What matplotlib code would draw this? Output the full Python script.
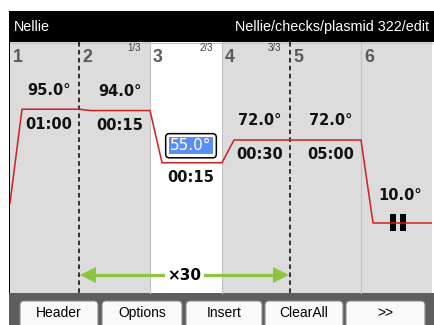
import matplotlib
matplotlib.use('Agg')
import matplotlib.pyplot as plt
from matplotlib.patches import Rectangle, FancyBboxPatch, Polygon

W, H = 434, 325

# program data
steps = ['1', '2', '3', '4', '5', '6']
temps = [95.0, 94.0, 55.0, 72.0, 72.0, 10.0]
times = ['01:00', '00:15', '00:15', '00:30', '05:00', None]   # None -> hold
cycle_pos = ['', '1/3', '2/3', '3/3', '', '']
start_temp = 25.0
cycles = 30
selected = 2
buttons = ['Header', 'Options', 'Insert', 'ClearAll', '>>']
title_left = 'Nellie'
title_right = 'Nellie/checks/plasmid 322/edit'

# layout (pixels)
col_edges = [10, 79, 150, 222, 290, 361, 432]
ramp = 12
label_x = [49, 120, 191, 260, 331, 400]
btn_x = [(20, 98), (102, 182), (186, 262), (265, 343), (346, 425)]
panel_top, panel_bot = 42, 293
T_top, T_bot = 145.2, -42.3

GRAY = '#dcdcdc'
RED = '#d11f1f'
GREEN = '#8cc63f'
BLUE = '#5b8ef5'

fig = plt.figure(figsize=(W / 100, H / 100), dpi=100)
ax = fig.add_axes([0, 0, 1, 1])
ax.set_xlim(0, W)
ax.set_ylim(H, 0)
ax.axis('off')

# header, panel, bottom bar
ax.add_patch(Rectangle((9, 11), W - 9, panel_top - 11, fc='black', ec='none'))
ax.add_patch(Rectangle((10, panel_top), col_edges[-1] - 10, panel_bot - panel_top, fc=GRAY, ec='none'))
ax.add_patch(Rectangle((col_edges[selected], panel_top), col_edges[selected + 1] - col_edges[selected],
                       panel_bot - panel_top, fc='white', ec='none'))
ax.add_patch(Rectangle((8.5, 11), 1.5, H - 11, fc='black', ec='none'))
ax.add_patch(Rectangle((9, panel_bot), W - 9, H - panel_bot, fc='#5e5e5e', ec='none'))
ax.plot([10, col_edges[-1]], [panel_top + 0.5] * 2, color='#c4c4c4', lw=0.8)

ax.text(14, 27, title_left, color='white', fontsize=10.4, va='center', family='Liberation Sans')
ax.text(429, 27, title_right, color='white', fontsize=10.4, va='center', ha='right', family='Liberation Sans')

# column dividers: dashed at the cycle bounds
in_cycle = [i for i, c in enumerate(cycle_pos) if c]
dashed = {col_edges[in_cycle[0]], col_edges[in_cycle[-1] + 1]}
for x in col_edges[1:-1]:
    if x in dashed:
        ax.plot([x, x], [panel_top, panel_bot], color='black', lw=1.1, dashes=(3, 2.2))
    else:
        ax.plot([x, x], [panel_top, panel_bot], color='#c2c2c2', lw=0.8)

for i, s in enumerate(steps):
    ax.text(col_edges[i] + 3, 57, s, ha='left', va='center', fontsize=12.8, fontweight='bold',
            color='#5a5a5a', family='Liberation Sans')
    if cycle_pos[i]:
        ax.text(col_edges[i + 1] - 9, 48, cycle_pos[i], ha='right', va='center', fontsize=7,
                color='#404040', family='Liberation Sans')

# cycle arrow
ya = 275
xl, xr = col_edges[in_cycle[0]] + 1, col_edges[in_cycle[-1] + 1] - 1
hl, hw = 16, 8
ax.plot([xl + hl - 1, xr - hl + 1], [ya, ya], color=GREEN, lw=2.3, solid_capstyle='butt')
ax.add_patch(Polygon([(xl, ya), (xl + hl, ya - hw), (xl + hl, ya + hw)], fc=GREEN, ec='none'))
ax.add_patch(Polygon([(xr, ya), (xr - hl, ya - hw), (xr - hl, ya + hw)], fc=GREEN, ec='none'))
ax.text((xl + xr) / 2, ya, f'×{cycles}', ha='center', va='center', fontsize=11, fontweight='bold',
        bbox=dict(boxstyle='square,pad=0.15', fc='white', ec='none'))

# buttons
for name, (x0, x1) in zip(buttons, btn_x):
    ax.add_patch(FancyBboxPatch((x0, 301), x1 - x0, 30, boxstyle='round,pad=0,rounding_size=4',
                                fc='#fafafa', ec='#8a8a8a', lw=0.8))
    ax.text((x0 + x1) / 2, 313, name, ha='center', va='center', fontsize=10, family='Liberation Sans')

# temperature profile
tax = fig.add_axes([10 / W, (H - panel_bot) / H, (col_edges[-1] - 10) / W, (panel_bot - panel_top) / H])
tax.set_xlim(10, col_edges[-1])
tax.set_ylim(T_bot, T_top)
tax.axis('off')
tax.patch.set_alpha(0)

xs, ys = [col_edges[0]], [start_temp]
for i, T in enumerate(temps):
    xs += [col_edges[i] + ramp, col_edges[i + 1]]
    ys += [T, T]
tax.plot(xs, ys, color=RED, lw=1.1)

for i, T in enumerate(temps):
    lab = f'{T:.1f}°'
    if i == selected:
        tax.annotate(lab, (label_x[i], T), xytext=(0, 17), textcoords='offset pixels', ha='center',
                     va='center', fontsize=11, color='none',
                     bbox=dict(boxstyle='round,pad=0.3,rounding_size=0.25', fc='white', ec='black', lw=1.1))
        tax.annotate(lab, (label_x[i], T), xytext=(0, 17), textcoords='offset pixels', ha='center',
                     va='center', fontsize=11, color='white',
                     bbox=dict(boxstyle='square,pad=0.05', fc=BLUE, ec='none'))
    else:
        dy = 27 if times[i] is None else 19
        tax.annotate(lab, (label_x[i], T), xytext=(0, dy), textcoords='offset pixels', ha='center',
                     va='center', fontsize=10.5, fontweight='bold', color='#111111')
    if times[i] is not None:
        tax.annotate(times[i], (label_x[i], T), xytext=(0, -15), textcoords='offset pixels', ha='center',
                     va='center', fontsize=10.5, fontweight='bold', color='#111111')
    else:
        # hold symbol on the line
        fig.canvas.draw()
        y_px = H - tax.transData.transform((0, T))[1]
        x0 = col_edges[i] + ramp
        tax.add_patch(Rectangle((x0 + 14, y_px - 9), 23, 18, fc=GRAY, ec='none', transform=ax.transData))
        for bx in (x0 + 17, x0 + 27):
            tax.add_patch(Rectangle((bx, y_px - 8.5), 6, 17, fc='black', ec='none', transform=ax.transData))

fig.savefig('out.png', dpi=100)
